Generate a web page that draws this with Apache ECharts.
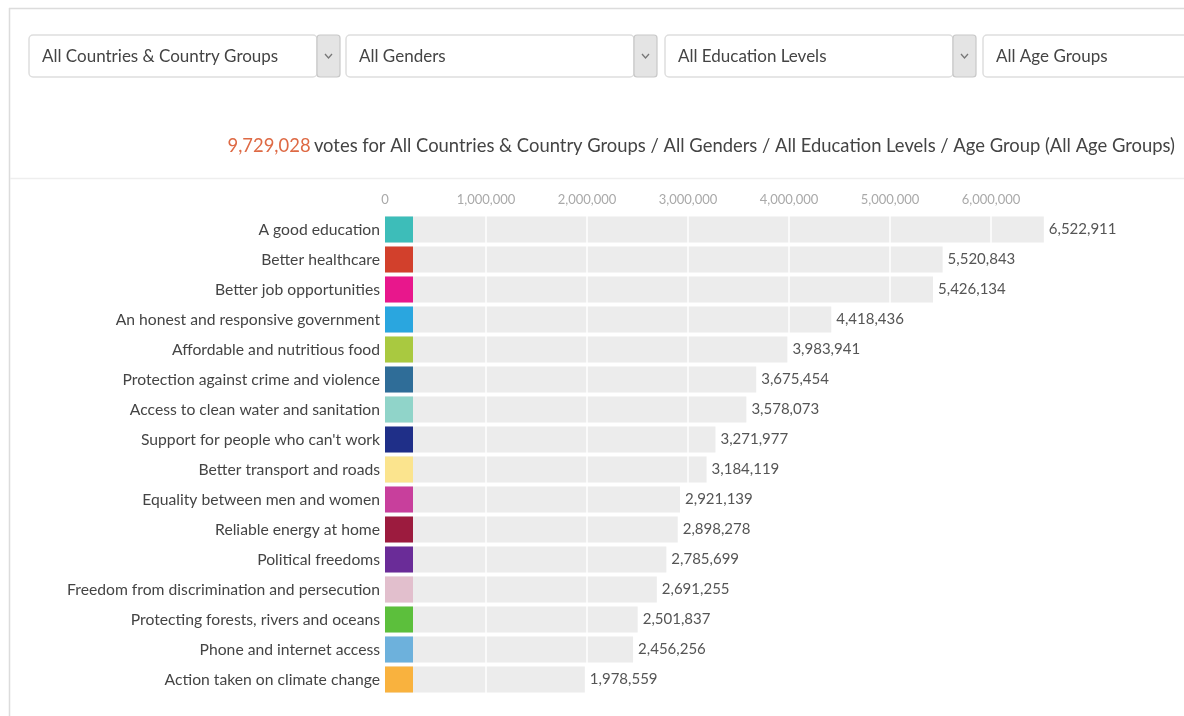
<!DOCTYPE html>
<html>
<head>
<meta charset="utf-8">
<script src="https://cdn.jsdelivr.net/npm/echarts@6/dist/echarts.min.js"></script>
<style>
  html, body { margin: 0; padding: 0; background: #fff; }
  #chart { width: 1184px; height: 716px; }
</style>
</head>
<body>
<div id="chart"></div>
<script>
// data
const categories = [
  'A good education', 'Better healthcare', 'Better job opportunities',
  'An honest and responsive government', 'Affordable and nutritious food',
  'Protection against crime and violence', 'Access to clean water and sanitation',
  "Support for people who can't work", 'Better transport and roads',
  'Equality between men and women', 'Reliable energy at home', 'Political freedoms',
  'Freedom from discrimination and persecution', 'Protecting forests, rivers and oceans',
  'Phone and internet access', 'Action taken on climate change'
]
const votes = [6522911, 5520843, 5426134, 4418436, 3983941, 3675454, 3578073, 3271977,
  3184119, 2921139, 2898278, 2785699, 2691255, 2501837, 2456256, 1978559]
const swatchColors = ['#3dbdb9', '#d2402c', '#e8178c', '#2aa6df', '#a9c940', '#2f6d98',
  '#90d4c9', '#1f2f88', '#fbe48e', '#c83f9c', '#9c1b3e', '#6a2c98',
  '#e2bfcd', '#5cbf3c', '#6db1dc', '#f9b23e']
const tickValues = [0, 1000000, 2000000, 3000000, 4000000, 5000000, 6000000]
const totalVotes = 9729028
const filters = ['All Countries & Country Groups', 'All Genders', 'All Education Levels', 'All Age Groups']

const fmt = v => v.toLocaleString('en-US')
const FONT = 'Lato'

var chart = echarts.init(document.getElementById('chart'))

// dropdown boxes along the top
var boxes = [[29, 288], [346, 288], [665, 288], [983, 230]]
var graphics = [
  {type: 'line', shape: {x1: 9, y1: 8.5, x2: 1184, y2: 8.5}, style: {stroke: '#dcdcdc', lineWidth: 1.5}},
  {type: 'line', shape: {x1: 9.5, y1: 8, x2: 9.5, y2: 716}, style: {stroke: '#dcdcdc', lineWidth: 1.5}},
  {type: 'line', shape: {x1: 10, y1: 178.5, x2: 1184, y2: 178.5}, style: {stroke: '#eeeeee', lineWidth: 1.5}}
]
boxes.forEach(function (b, i) {
  graphics.push({type: 'rect', shape: {x: b[0], y: 35, width: b[1], height: 42, r: 4},
    style: {fill: '#fff', stroke: '#dedede', lineWidth: 1.5}})
  graphics.push({type: 'text', x: b[0] + 13, y: 57,
    style: {text: filters[i], fill: '#444', font: '17px ' + FONT, textVerticalAlign: 'middle'}})
  if (i < 3) {
    var ax = b[0] + b[1]
    graphics.push({type: 'rect', shape: {x: ax, y: 35, width: 23, height: 42, r: 3},
      style: {fill: '#e4e4e4', stroke: '#c8c8c8', lineWidth: 1.2}})
    graphics.push({type: 'polyline', shape: {points: [[ax + 8, 54], [ax + 11.5, 58], [ax + 15, 54]]},
      style: {stroke: '#777', lineWidth: 1.3, fill: null}})
  }
})
graphics.push({
  type: 'text', right: 9, top: 137,
  style: {
    text: '{n|' + fmt(totalVotes) + '} {t|votes for All Countries & Country Groups / All Genders / All Education Levels / Age Group (All Age Groups)}',
    rich: {
      n: {fill: '#de6a45', font: '18.4px ' + FONT},
      t: {fill: '#444', font: '18.4px ' + FONT}
    }
  }
})

var option = {
  animation: false,
  textStyle: {fontFamily: FONT},
  graphic: graphics,
  grid: {left: 385, right: 92, top: 214.5, bottom: 21.5},
  xAxis: {
    type: 'value', position: 'top', min: 0, max: 7000000, interval: 1000000, z: 5,
    axisLabel: {
      color: '#a9a9a9', fontSize: 13, margin: 8, showMaxLabel: false,
      formatter: v => tickValues.indexOf(v) >= 0 ? fmt(v) : ''
    },
    axisLine: {show: false}, axisTick: {show: false},
    splitLine: {show: true, showMinLine: false, lineStyle: {color: '#ffffff', width: 1.5}}
  },
  yAxis: {
    type: 'category', data: categories, inverse: true,
    axisLine: {show: false}, axisTick: {show: false},
    axisLabel: {color: '#444', fontSize: 15.7, margin: 5}
  },
  series: [
    {
      type: 'bar', data: votes, barWidth: 26, z: 2,
      itemStyle: {color: '#ececec'}
    },
    {
      // same values again, only to carry the labels above the white grid lines
      type: 'bar', data: votes, barWidth: 26, barGap: '-100%', z: 10,
      itemStyle: {color: 'rgba(0,0,0,0)'},
      label: {show: true, position: 'right', distance: 5, color: '#555', fontSize: 15,
        formatter: p => fmt(p.value)}
    },
    {
      type: 'custom', z: 10,
      data: categories.map((c, i) => [0, i]),
      renderItem: function (params, api) {
        var p = api.coord([0, api.value(1)])
        return {type: 'rect', shape: {x: p[0], y: p[1] - 13, width: 28, height: 26},
          style: {fill: swatchColors[params.dataIndex]}}
      }
    }
  ]
}
chart.setOption(option)
</script>
</body>
</html>
